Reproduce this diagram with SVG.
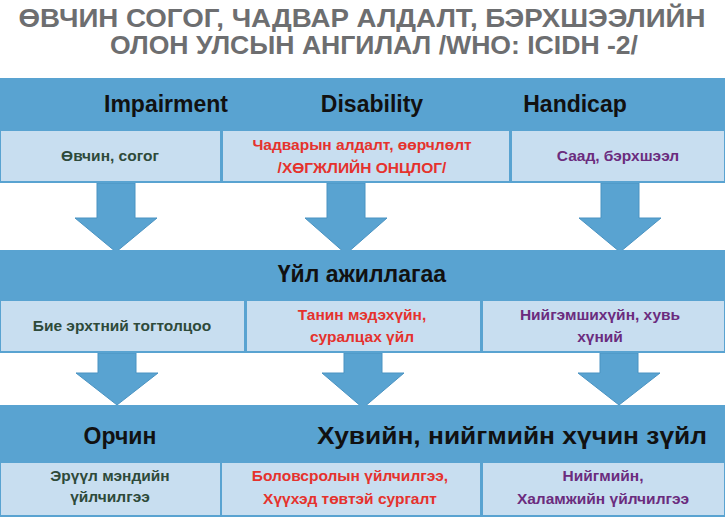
<svg xmlns="http://www.w3.org/2000/svg" width="725" height="517" viewBox="0 0 725 517">
<style>
.band{fill:#59a3d1}
.cell{fill:#c8def0;stroke:#59a3d1;stroke-width:2}
.arr{fill:#59a3d1;stroke:#4a93c2;stroke-width:1}
text{font-family:"Liberation Sans",Arial,sans-serif;font-weight:bold;text-anchor:middle}
.title{fill:#6d6e70;font-size:25px}
.h{fill:#111;font-size:23px}
.g{fill:#2e4a3a;font-size:15.5px}
.r{fill:#e5322d;font-size:15.5px}
.p{fill:#6b2c7e;font-size:15.5px}
</style>
<rect width="725" height="517" fill="#fff"/>
<g id="title">
<text class="title" x="362" y="27" textLength="687" lengthAdjust="spacingAndGlyphs">ӨВЧИН СОГОГ, ЧАДВАР АЛДАЛТ, БЭРХШЭЭЛИЙН</text>
<text class="title" x="374" y="54" textLength="528" lengthAdjust="spacingAndGlyphs">ОЛОН УЛСЫН АНГИЛАЛ /WHO: ICIDH -2/</text>
</g>
<g id="connectors">
<polygon class="arr" points="97,183 135,183 135,218 157,218 116,252 75,218 97,218"/>
<polygon class="arr" points="327,183 365,183 365,218 387,218 346,254 305,218 327,218"/>
<polygon class="arr" points="601,183 639,183 639,218 661,218 620,252 579,218 601,218"/>
<polygon class="arr" points="98,353 136,353 136,373 158,373 117,405 76,373 98,373"/>
<polygon class="arr" points="344,353 382,353 382,373 404,373 363,408 322,373 344,373"/>
<polygon class="arr" points="600,353 638,353 638,373 660,373 619,405 578,373 600,373"/>
</g>
<g id="band1">
<rect class="band" x="0" y="78" width="725" height="52"/>
<text class="h" x="166" y="112">Impairment</text>
<text class="h" x="372" y="112">Disability</text>
<text class="h" x="575" y="112">Handicap</text>
</g>
<g id="impairment"><rect class="cell" x="0" y="130" width="221" height="52"/><text class="g" x="110" y="161">Өвчин, согог</text></g>
<g id="disability"><rect class="cell" x="222" y="130" width="288" height="52"/><text class="r" x="362" y="150">Чадварын алдалт, өөрчлөлт</text><text class="r" x="362" y="173">/ХӨГЖЛИЙН ОНЦЛОГ/</text></g>
<g id="handicap"><rect class="cell" x="511" y="130" width="214" height="52"/><text class="p" x="618" y="161">Саад, бэрхшээл</text></g>
<g id="band2">
<rect class="band" x="0" y="250" width="725" height="50"/>
<text class="h" x="362" y="282">Үйл ажиллагаа</text>
</g>
<g id="body"><rect class="cell" x="0" y="300" width="245" height="52"/><text class="g" x="122" y="331">Бие эрхтний  тогтолцоо</text></g>
<g id="cognitive"><rect class="cell" x="246" y="300" width="235" height="52"/><text class="r" x="362" y="320">Танин мэдэхүйн,</text><text class="r" x="362" y="342">суралцах үйл</text></g>
<g id="social"><rect class="cell" x="482" y="300" width="243" height="52"/><text class="p" x="600" y="320">Нийгэмшихүйн, хувь</text><text class="p" x="600" y="342">хүний</text></g>
<g id="band3">
<rect class="band" x="0" y="405" width="725" height="57"/>
<text class="h" x="120" y="444" font-size="25">Орчин</text>
<text class="h" x="512" y="444" font-size="25" textLength="390" lengthAdjust="spacingAndGlyphs">Хувийн, нийгмийн  хүчин зүйл</text>
</g>
<g id="health"><rect class="cell" x="0" y="462" width="221" height="54"/><text class="g" x="110" y="481">Эрүүл мэндийн</text><text class="g" x="110" y="502">үйлчилгээ</text></g>
<g id="education"><rect class="cell" x="221" y="462" width="260" height="54"/><text class="r" x="350" y="481">Боловсролын үйлчилгээ,</text><text class="r" x="350" y="504">Хүүхэд төвтэй сургалт</text></g>
<g id="care"><rect class="cell" x="482" y="462" width="243" height="54"/><text class="p" x="603" y="481">Нийгмийн,</text><text class="p" x="603" y="504">Халамжийн үйлчилгээ</text></g>
</svg>
